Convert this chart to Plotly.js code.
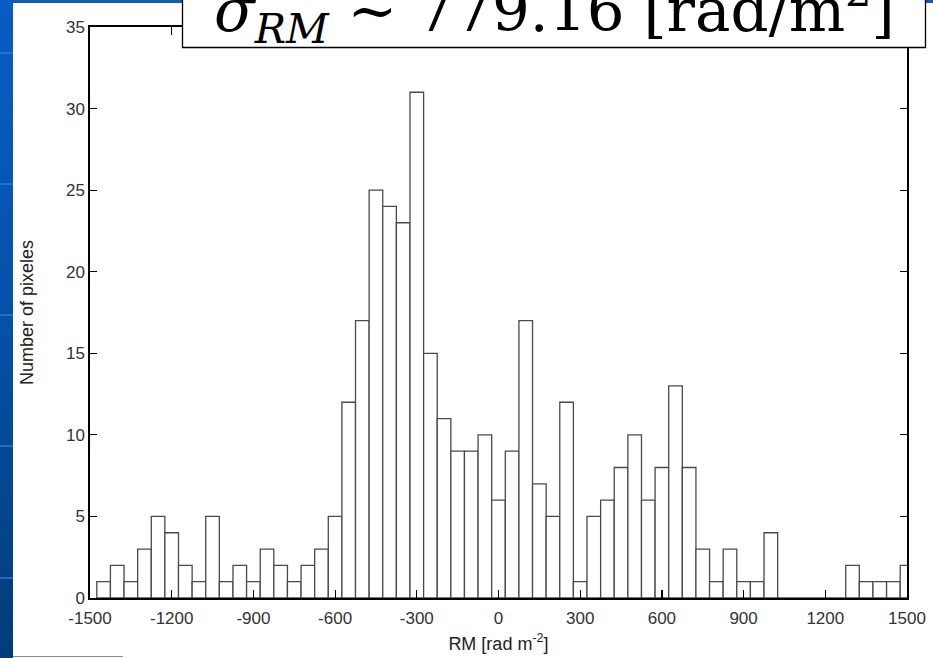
<!DOCTYPE html>
<html>
<head>
<meta charset="utf-8">
<script src="https://cdn.plot.ly/plotly-3.0.1.min.js"></script>
<style>
  html, body { margin: 0; padding: 0; width: 933px; height: 658px; overflow: hidden; }
  body { background: linear-gradient(to bottom, #075dc6 0%, #0550a8 50%, #013c7a 100%); position: relative; }
  #panel { position: absolute; left: 13px; top: 3px; width: 920px; height: 655px; background: #ffffff; }
  #rule { position: absolute; left: 13px; top: 656px; width: 110px; height: 1px; background: #8a8a8a; }
  .stripe { position: absolute; left: 0; width: 13px; height: 2px; background: #2a7fe0; opacity: 0.7; }
  #chart { position: absolute; left: 0; top: 0; width: 933px; height: 658px; }
</style>
</head>
<body>
<div id="panel"></div>
<div id="rule"></div>
<div class="stripe" style="top:52px"></div>
<div class="stripe" style="top:183px"></div>
<div class="stripe" style="top:314px"></div>
<div class="stripe" style="top:445px"></div>
<div class="stripe" style="top:577px"></div>
<div id="chart"></div>
<script>
// Histogram bin centres (bin width 50 rad m^-2)
const binCenters = [
  -1450, -1400, -1350, -1300, -1250, -1200, -1150, -1100, -1050, -1000,
  -950, -900, -850, -800, -750, -700, -650, -600, -550, -500,
  -450, -400, -350, -300, -250, -200, -150, -100, -50, 0,
  50, 100, 150, 200, 250, 300, 350, 400, 450, 500,
  550, 600, 650, 700, 750, 800, 850, 900, 950, 1000,
  1050, 1100, 1150, 1200, 1250, 1300, 1350, 1400, 1450, 1500
];
// Number of pixels in each bin
const pixelCounts = [
  1, 2, 1, 3, 5, 4, 2, 1, 5, 1,
  2, 1, 3, 2, 1, 2, 3, 5, 12, 17,
  25, 24, 23, 31, 15, 11, 9, 9, 10, 6,
  9, 17, 7, 5, 12, 1, 5, 6, 8, 10,
  6, 8, 13, 8, 3, 1, 3, 1, 1, 4,
  0, 0, 0, 0, 0, 2, 1, 1, 1, 2
];
const xTickVals = [-1500, -1200, -900, -600, -300, 0, 300, 600, 900, 1200, 1500];
const xTickText = ['-1500', '-1200', '-900', '-600', '-300', '0', '300', '600', '900', '1200', '1500'];
const yTickVals = [0, 5, 10, 15, 20, 25, 30, 35];
const xTitle = 'RM [rad m<sup>-2</sup>]';
const yTitle = 'Number of pixeles';
const boxTitle = '<i>σ</i><sub><i>RM</i></sub> ~ 779.16 [rad/m<sup>2</sup>]';

// layout geometry in pixels
const W = 933, H = 658;
const L = 90, R = 907, T = 27, B = 598;
const px = x => (x - L) / (R - L);
const py = y => (B - y) / (B - T);

const tickFont = { family: 'Liberation Sans, Arial, sans-serif', size: 17, color: '#333333' };

const trace = {
  type: 'bar',
  x: binCenters,
  y: pixelCounts,
  width: 50,
  marker: { color: '#ffffff', line: { color: '#4a4a4a', width: 1.3 } },
  hoverinfo: 'x+y'
};

const layout = {
  width: W, height: H,
  margin: { l: L, r: W - R, t: T, b: H - B, pad: 0 },
  paper_bgcolor: 'rgba(0,0,0,0)',
  plot_bgcolor: '#ffffff',
  showlegend: false,
  bargap: 0,
  xaxis: {
    range: [-1500, 1500],
    tickmode: 'array', tickvals: xTickVals, ticktext: xTickText,
    ticks: 'inside', ticklen: 8, tickwidth: 1.2, tickcolor: '#000000',
    showline: true, linecolor: '#000000', linewidth: 1.6, mirror: 'ticks',
    showgrid: false, zeroline: false,
    tickfont: tickFont, ticklabelstandoff: 4,
    title: { text: xTitle, font: { family: 'Liberation Sans, Arial, sans-serif', size: 18, color: '#222222' }, standoff: 10 },
    automargin: false
  },
  yaxis: {
    range: [0, 35],
    tickmode: 'array', tickvals: yTickVals,
    ticks: 'inside', ticklen: 7, tickwidth: 1.2, tickcolor: '#000000',
    showline: true, linecolor: '#000000', linewidth: 1.6, mirror: 'ticks',
    showgrid: false, zeroline: false,
    tickfont: tickFont,
    title: { text: yTitle, font: { family: 'Liberation Sans, Arial, sans-serif', size: 18, color: '#222222' }, standoff: 28 },
    automargin: false
  },
  shapes: [{
    type: 'rect', xref: 'paper', yref: 'paper', layer: 'above',
    x0: px(182.5), x1: px(925.5), y0: py(47.5), y1: py(-20),
    fillcolor: '#ffffff', line: { color: '#000000', width: 1.3 }
  }],
  annotations: [{
    xref: 'paper', yref: 'paper', x: px(212), y: py(55),
    xanchor: 'left', yanchor: 'bottom', showarrow: false,
    text: boxTitle,
    font: { family: 'DejaVu Serif, serif', size: 59.5, color: '#000000' }
  }]
};

Plotly.newPlot('chart', [trace], layout, { displayModeBar: false, staticPlot: true });
</script>
</body>
</html>
